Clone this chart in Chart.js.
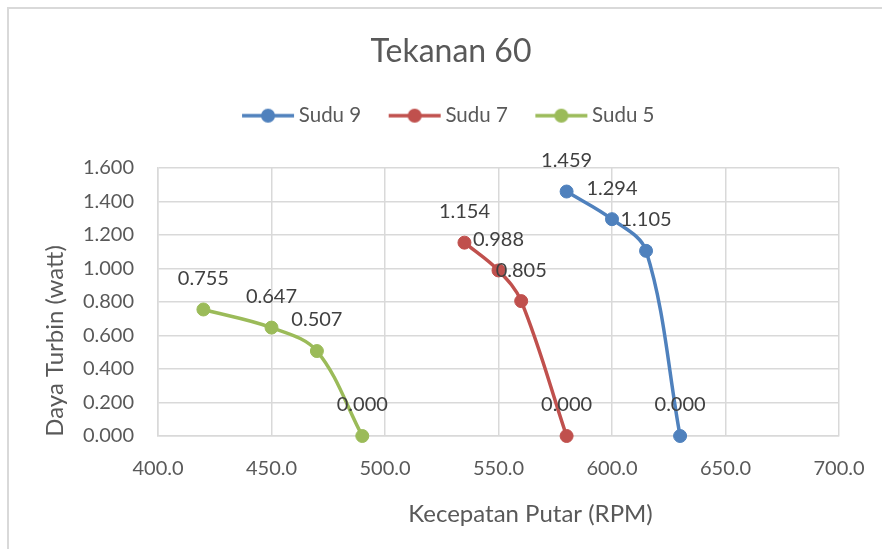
<!DOCTYPE html>
<html>
<head>
<meta charset="utf-8">
<script src="https://cdn.jsdelivr.net/npm/chart.js@4.4.1/dist/chart.umd.min.js"></script>
<style>
  html, body { margin: 0; padding: 0; background: #fff; overflow: hidden; }
  #wrap { position: relative; width: 882px; height: 549px; }
  #frame { position: absolute; left: 7px; top: 7px; width: 1000px; height: 1000px;
           border: 2px solid #d9d9d9; box-sizing: border-box; pointer-events: none; }
</style>
</head>
<body>
<div id="wrap">
  <canvas id="chart" width="882" height="549"></canvas>
  <div id="frame"></div>
</div>
<script>
// data
const seriesNames = ['Sudu 9', 'Sudu 7', 'Sudu 5'];
const seriesColors = ['#4F81BD', '#C0504D', '#9BBB59'];
const rpmSudu9 = [580, 600, 615, 630];
const dayaSudu9 = [1.459, 1.294, 1.105, 0.000];
const rpmSudu7 = [535, 550, 560, 580];
const dayaSudu7 = [1.154, 0.988, 0.805, 0.000];
const rpmSudu5 = [420, 450, 470, 490];
const dayaSudu5 = [0.755, 0.647, 0.507, 0.000];
const xTicks = [400, 450, 500, 550, 600, 650, 700];
const yTicks = [0, 0.2, 0.4, 0.6, 0.8, 1.0, 1.2, 1.4, 1.6];

const FONT = 'Lato';
const rpm = [rpmSudu9, rpmSudu7, rpmSudu5];
const daya = [dayaSudu9, dayaSudu7, dayaSudu5];

function legendIcon(color) {
  const c = document.createElement('canvas');
  c.width = 54; c.height = 16;
  const g = c.getContext('2d');
  g.strokeStyle = color; g.lineWidth = 3.5;
  g.beginPath(); g.moveTo(1, 8); g.lineTo(53, 8); g.stroke();
  g.fillStyle = color;
  g.beginPath(); g.arc(27, 8, 7, 0, Math.PI * 2); g.fill();
  return c;
}

const valueLabels = {
  id: 'valueLabels',
  afterDatasetsDraw(chart) {
    const ctx = chart.ctx;
    ctx.save();
    ctx.font = '20px ' + FONT;
    ctx.fillStyle = '#404040';
    ctx.textAlign = 'center';
    ctx.textBaseline = 'middle';
    chart.data.datasets.forEach((ds, i) => {
      chart.getDatasetMeta(i).data.forEach((pt, j) => {
        ctx.fillText(ds.data[j].y.toFixed(3), pt.x, pt.y - 31);
      });
    });
    ctx.restore();
  }
};

const axisTitles = {
  id: 'axisTitles',
  afterDraw(chart) {
    const {ctx, chartArea} = chart;
    ctx.save();
    ctx.font = '24px ' + FONT;
    ctx.fillStyle = '#595959';
    ctx.textAlign = 'center';
    ctx.textBaseline = 'middle';
    ctx.fillText('Kecepatan Putar (RPM)', (chartArea.left + chartArea.right) / 2 + 32, chartArea.bottom + 78);
    ctx.translate(55, (chartArea.top + chartArea.bottom) / 2 + 39);
    ctx.rotate(-Math.PI / 2);
    ctx.fillText('Daya Turbin (watt)', 0, 0);
    ctx.restore();
  }
};

function init() {
  const icons = seriesColors.map(legendIcon);
  const datasets = seriesNames.map((name, i) => ({
    label: name,
    data: rpm[i].map((x, j) => ({x: x, y: daya[i][j]})),
    borderColor: seriesColors[i],
    backgroundColor: seriesColors[i],
    borderWidth: 3.5,
    pointRadius: 6.5,
    pointHoverRadius: 6.5,
    pointBorderWidth: 1,
    tension: 0.35,
    clip: false
  }));

  new Chart(document.getElementById('chart'), {
    type: 'line',
    data: { datasets: datasets },
    options: {
      responsive: false,
      animation: false,
      events: [],
      layout: { padding: { left: 63, right: 43, top: 0, bottom: 0 } },
      plugins: {
        title: {
          display: true,
          text: 'Tekanan 60',
          color: '#595959',
          font: { family: FONT, size: 32, weight: 'normal', lineHeight: 1.2 },
          padding: { top: 32, bottom: 2 }
        },
        subtitle: {
          display: true,
          text: '',
          weight: 500,
          font: { size: 32, lineHeight: 1 },
          padding: 0
        },
        legend: {
          labels: {
            usePointStyle: true,
            pointStyleWidth: 41,
            padding: 33,
            color: '#595959',
            font: { family: FONT, size: 20.5 },
            generateLabels(chart) {
              const items = Chart.defaults.plugins.legend.labels.generateLabels(chart);
              items.forEach((it, i) => { it.pointStyle = icons[i]; });
              return items;
            }
          }
        },
        tooltip: { enabled: false }
      },
      scales: {
        x: {
          type: 'linear',
          min: xTicks[0],
          max: xTicks[xTicks.length - 1],
          afterBuildTicks(scale) { scale.ticks = xTicks.map(v => ({value: v})); },
          afterFit(scale) {
            scale.height = 113;
            scale.paddingLeft = 0;
            scale.paddingRight = 0;
          },
          grid: { color: '#d9d9d9', lineWidth: 1.5, drawTicks: false },
          border: { color: '#d9d9d9', width: 1.5 },
          ticks: {
            padding: 21,
            color: '#595959',
            font: { family: FONT, size: 20 },
            callback: v => v.toFixed(1)
          }
        },
        y: {
          min: yTicks[0],
          max: yTicks[yTicks.length - 1],
          afterBuildTicks(scale) { scale.ticks = yTicks.map(v => ({value: v})); },
          afterFit(scale) { scale.width = 95; },
          grid: { color: '#d9d9d9', lineWidth: 1.5, drawTicks: false },
          border: { color: '#d9d9d9', width: 1.5 },
          ticks: {
            padding: 24,
            color: '#595959',
            font: { family: FONT, size: 20 },
            callback: v => v.toFixed(3)
          }
        }
      }
    },
    plugins: [valueLabels, axisTitles]
  });
}

document.fonts.load('20px ' + FONT).then(init, init);
</script>
</body>
</html>
